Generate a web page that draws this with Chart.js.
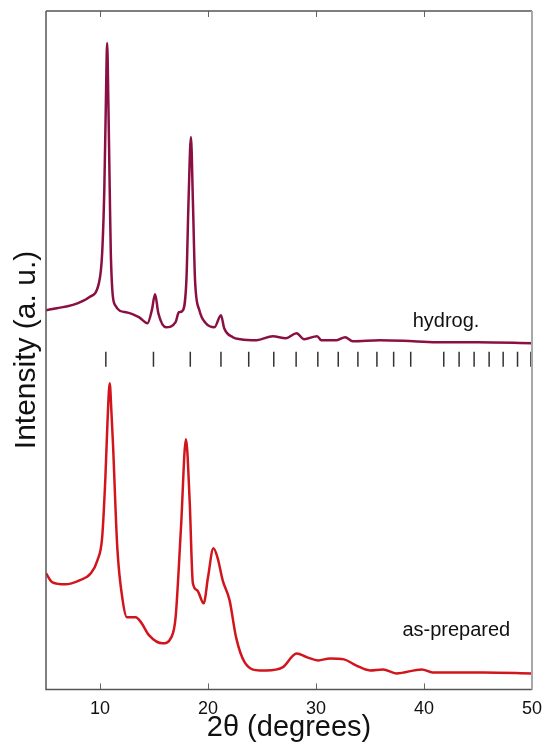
<!DOCTYPE html>
<html>
<head>
<meta charset="utf-8">
<script src="https://cdn.jsdelivr.net/npm/chart.js@4.4.1/dist/chart.umd.min.js"></script>
<style>
  html, body { margin: 0; padding: 0; background: #fff; }
  #wrap { width: 542px; height: 746px; }
</style>
</head>
<body>
<div id="wrap"><canvas id="grafico"></canvas></div>
<script>
// patron de difraccion (unidades arbitrarias)
const hydX = [5.0, 6.0, 7.4, 9.0, 9.9, 10.2, 10.4, 10.55, 10.66, 10.77, 10.9, 11.0, 11.4, 12.4, 13.6, 14.4, 14.8, 15.1, 15.4, 16.1, 17.0, 17.3, 17.6, 18.0, 18.2, 18.42, 18.6, 18.8, 19.2, 19.8, 20.6, 21.2, 21.5, 22.3, 23.0, 24.5, 26.0, 27.2, 28.2, 28.9, 30.1, 30.5, 31.9, 32.7, 33.4, 35.9, 39.0, 41.5, 45.0, 50.0];
const hydY = [379, 381, 384, 392, 406, 436, 500, 590, 646, 590, 500, 436, 384, 377, 372, 366, 379, 395, 376, 362, 367, 377, 378, 409, 489, 552, 489, 409, 379, 366, 362, 374, 361, 352, 350, 349, 353, 351, 356, 350, 353, 349, 349, 352, 348, 349, 348, 347, 347, 346];

const prepX = [5.0, 5.6, 6.8, 8.1, 9.15, 9.76, 10.2, 10.5, 10.7, 10.9, 11.05, 11.2, 11.6, 12.1, 12.5, 13.3, 13.8, 14.55, 15.8, 16.6, 17.0, 17.5, 17.96, 18.3, 18.6, 19.0, 19.6, 20.0, 20.5, 20.9, 21.36, 22.0, 22.6, 23.4, 24.8, 25.4, 26.9, 28.2, 29.2, 30.2, 31.3, 32.6, 33.7, 35.0, 36.2, 37.45, 39.8, 40.8, 45.5, 50.0];
const prepY = [116, 107, 105, 109, 116, 129, 152, 212, 269, 306, 279, 246, 142, 89, 72, 72, 67, 54, 46, 52, 72, 162, 250, 189, 106, 99, 86, 112, 141, 131, 109, 89, 52, 27, 19, 19, 22, 36, 32, 29, 31, 30, 24, 19, 20, 16, 20, 17, 17, 16];

// posiciones de reflexiones (marcas verticales)
const reflexiones = [10.54, 14.95, 18.36, 21.2, 23.77, 26.09, 28.16, 30.17, 32.06, 33.88, 35.64, 37.19, 38.77, 41.83, 43.25, 44.64, 46.03, 47.33, 48.66, 49.9];
const nivelMarcas = 330;

const xTicks = [10, 20, 30, 40, 50];

const etiquetas = [
  { texto: 'hydrog.', x: 38.95, y: 368 },
  { texto: 'as-prepared', x: 38.0, y: 59 }
];

const tituloX = '2θ (degrees)';
const tituloY = 'Intensity (a. u.)';

const toPoints = (xs, ys) => xs.map((x, i) => ({ x: x, y: ys[i] }));
const fuente = '"Liberation Sans", Arial, sans-serif';

const marcoPlugin = {
  id: 'marco',
  afterDraw(chart) {
    const { ctx, chartArea: a, scales } = chart;
    ctx.save();
    // ticks hacia dentro, abajo y arriba
    ctx.strokeStyle = '#666';
    ctx.lineWidth = 1;
    xTicks.forEach(v => {
      const px = Math.round(scales.x.getPixelForValue(v)) + 0.5;
      ctx.beginPath();
      ctx.moveTo(px, a.bottom);
      ctx.lineTo(px, a.bottom - 6);
      ctx.moveTo(px, a.top);
      ctx.lineTo(px, a.top + 6);
      ctx.stroke();
    });
    // bordes
    ctx.lineWidth = 1.5;
    ctx.strokeStyle = '#555';
    ctx.beginPath();
    ctx.moveTo(a.left, a.top); ctx.lineTo(a.right, a.top);
    ctx.moveTo(a.left, a.top); ctx.lineTo(a.left, a.bottom);
    ctx.lineTo(a.right, a.bottom);
    ctx.stroke();
    ctx.strokeStyle = '#a8a8a8';
    ctx.lineWidth = 2;
    ctx.beginPath();
    ctx.moveTo(a.right, a.top); ctx.lineTo(a.right, a.bottom);
    ctx.stroke();
    // etiquetas de las curvas
    ctx.fillStyle = '#111';
    ctx.font = '20px ' + fuente;
    ctx.textBaseline = 'middle';
    etiquetas.forEach(e => {
      ctx.fillText(e.texto, scales.x.getPixelForValue(e.x), scales.y.getPixelForValue(e.y));
    });
    // titulos de los ejes
    ctx.textAlign = 'center';
    ctx.textBaseline = 'alphabetic';
    ctx.font = '29px ' + fuente;
    ctx.fillText(tituloX, (a.left + a.right) / 2, 736);
    ctx.translate(27, 350);
    ctx.rotate(-Math.PI / 2);
    ctx.textBaseline = 'middle';
    ctx.font = '30px ' + fuente;
    ctx.fillText(tituloY, 0, 0);
    ctx.restore();
  }
};

document.addEventListener('DOMContentLoaded', function() {
  const ctx = document.getElementById('grafico');
  new Chart(ctx, {
    type: 'line',
    data: {
      datasets: [{
        label: 'hydrog.',
        data: toPoints(hydX, hydY),
        borderColor: '#8a1043',
        borderWidth: 2.5,
        pointRadius: 0,
        cubicInterpolationMode: 'monotone'
      }, {
        label: 'as-prepared',
        data: toPoints(prepX, prepY),
        borderColor: '#d2151d',
        borderWidth: 2.5,
        pointRadius: 0,
        cubicInterpolationMode: 'monotone'
      }, {
        label: 'reflexiones',
        data: reflexiones.map(x => ({ x: x, y: nivelMarcas })),
        showLine: false,
        pointStyle: 'line',
        rotation: 90,
        pointRadius: 7.5,
        pointHoverRadius: 7.5,
        borderColor: '#333',
        borderWidth: 1.5
      }]
    },
    options: {
      responsive: true,
      maintainAspectRatio: false,
      animation: false,
      layout: { padding: { top: 11, right: 10, left: 46, bottom: 17 } },
      scales: {
        x: {
          type: 'linear',
          min: 5,
          max: 50,
          afterBuildTicks: scale => { scale.ticks = xTicks.map(v => ({ value: v })); },
          afterFit: scale => { scale.paddingRight = 0; scale.paddingLeft = 0; },
          grid: { display: false, drawTicks: false },
          border: { display: false },
          ticks: {
            color: '#111',
            padding: 9,
            font: { family: fuente, size: 18 }
          }
        },
        y: {
          display: false,
          min: 0,
          max: 678
        }
      },
      plugins: {
        legend: { display: false },
        tooltip: { enabled: false }
      }
    },
    plugins: [marcoPlugin]
  });
});
</script>
</body>
</html>
